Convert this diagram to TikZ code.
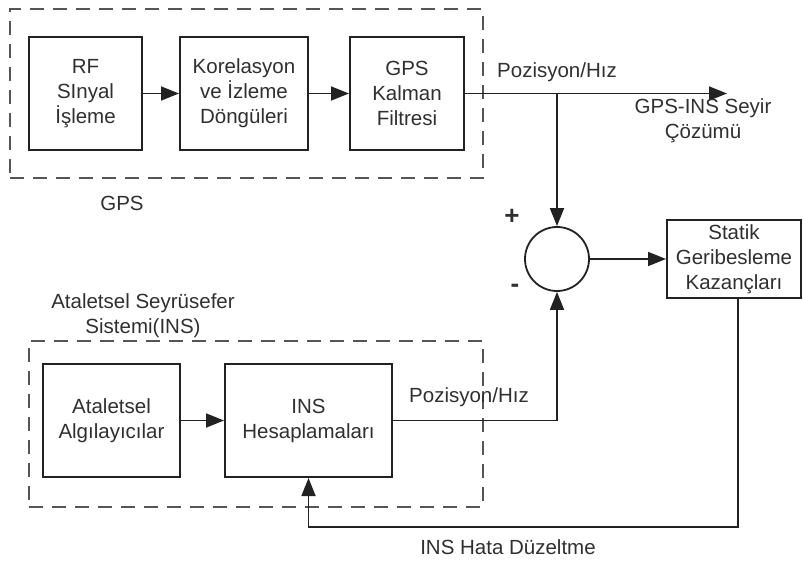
\documentclass[tikz,border=0pt]{standalone}
\usepackage{fontspec}
\setmainfont{Liberation Sans}
\usetikzlibrary{arrows.meta}
\definecolor{ink}{HTML}{222222}
\definecolor{txt}{HTML}{303030}
\definecolor{grp}{HTML}{555555}
\begin{document}
\begin{tikzpicture}[x=1pt,y=-1pt,
  every node/.style={text=txt, font=\fontsize{20.5}{25}\selectfont, align=center, inner sep=0pt},
  blk/.style={draw=ink, line width=2pt, fill=white},
  group/.style={draw=grp, line width=2pt, dash pattern=on 14pt off 9pt},
  arr/.style={draw=ink, line width=1.8pt, -{Triangle[length=18pt,width=14pt]}},
  wire/.style={draw=ink, line width=1.8pt}]
\useasboundingbox (0,0) rectangle (803,561);

% dashed system boundaries
\node[group, minimum width=473, minimum height=169] (gpsgrp) at (246.5,93.5) {};
\node[group, minimum width=454, minimum height=166] (insgrp) at (256,424) {};

% GPS receiver chain
\node[blk, minimum width=113, minimum height=113] (rf) at (85.5,93.5) {RF\\SInyal\\İşleme};
\node[blk, minimum width=128, minimum height=113] (kor) at (244,93.5) {Korelasyon\\ve İzleme\\Döngüleri};
\node[blk, minimum width=114, minimum height=113] (kal) at (407,93.5) {GPS\\Kalman\\Filtresi};
\node (gpslbl) at (122,203) {GPS};

% INS chain
\node[blk, minimum width=137, minimum height=113] (ata) at (111.5,420.5) {Ataletsel\\Algılayıcılar};
\node[blk, minimum width=167, minimum height=113] (ins) at (308.5,420.5) {INS\\Hesaplamaları};
\node (inslbl) at (143,316) {Ataletsel Seyrüsefer\\Sistemi(INS)};

% comparator and gain
\node[draw=ink, line width=1.8pt, circle, minimum size=64, fill=white] (sum) at (557,259) {};
\node[blk, minimum width=134, minimum height=78] (stat) at (734,259) {Statik\\Geribesleme\\Kazançları};
\node (plus) at (512,217) {\fontsize{26}{26}\selectfont\textbf{+}};
\node (minus) at (515,288) {\fontsize{26}{26}\selectfont\textbf{-}};

% output and feedback anchors
\coordinate (out) at (727,93.5);
\coordinate (fb) at (0,527);

% connectors
\draw[arr] (rf) -- (kor);
\draw[arr] (kor) -- (kal);
\draw[arr] (kal.east) -- (out);
\draw[arr] (sum.north |- kal.east) -- (sum.north);
\draw[arr] (sum) -- (stat);
\draw[arr] (ata) -- (ins);
\draw[arr] (ins.east |- ata.east) -| (sum.south);
\draw[arr] ([xshift=4pt]stat.south) -- ([xshift=4pt]stat.south |- fb) -| (ins.south);

% signal labels
\node (pos1) at (557,72) {Pozisyon/Hız};
\node (nav) at (703,121) {GPS-INS Seyir\\Çözümü};
\node (pos2) at (469,397) {Pozisyon/Hız};
\node (corr) at (508,547) {INS Hata Düzeltme};
\end{tikzpicture}
\end{document}
